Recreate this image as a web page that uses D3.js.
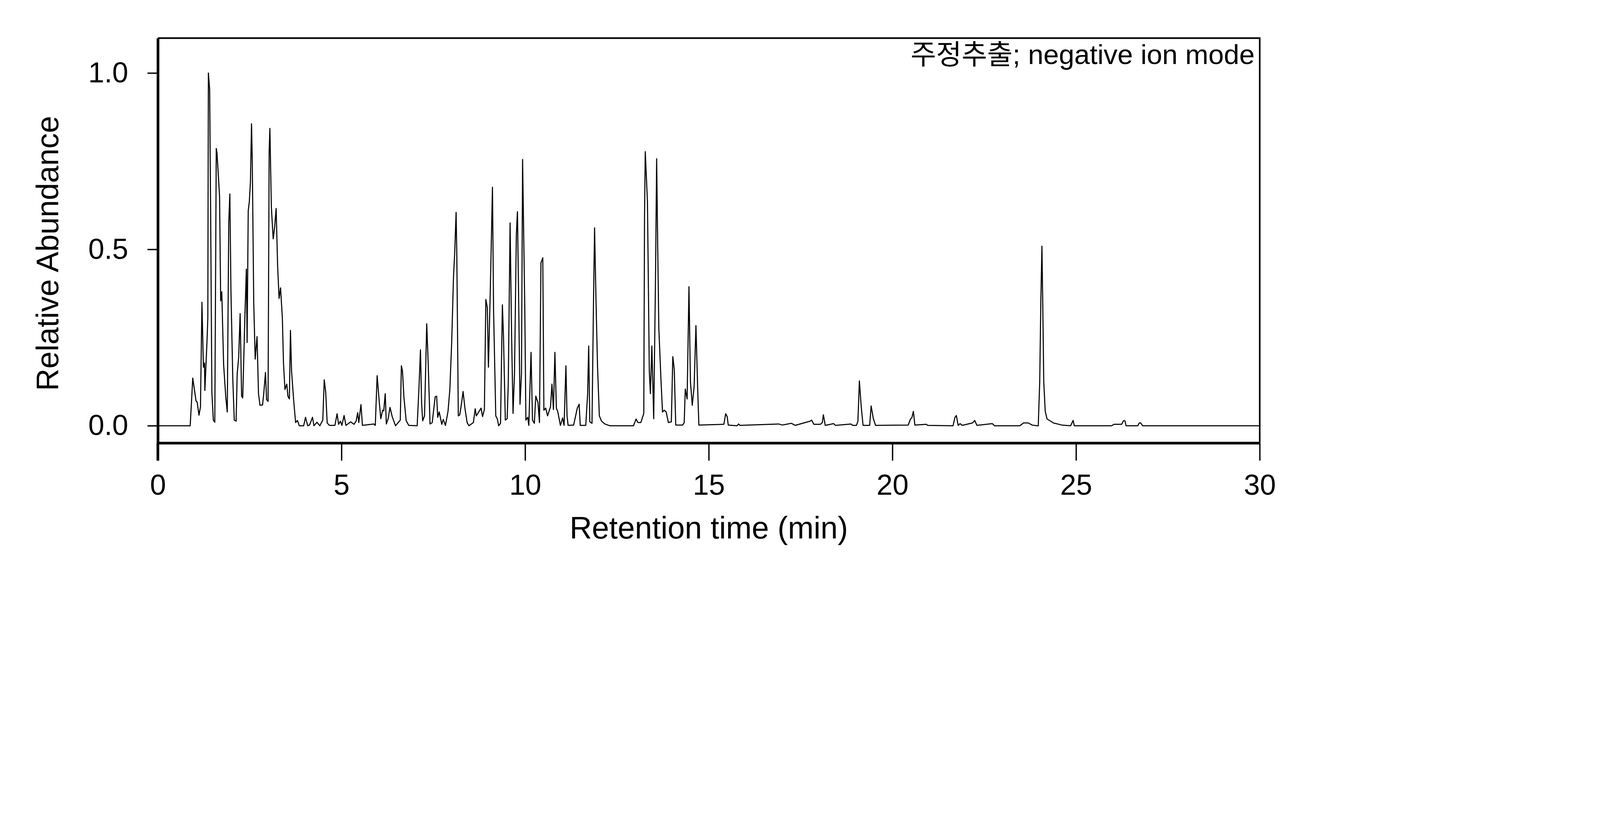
<!DOCTYPE html>
<html>
<head>
<meta charset="utf-8">
<script src="https://cdn.jsdelivr.net/npm/d3@7"></script>
<style>
  html, body { margin: 0; padding: 0; background: #fff; overflow: hidden; }
  svg { display: block; width: 100vw; height: auto; }
  text { font-family: "Liberation Sans", Arial, sans-serif; fill: #000; }
</style>
</head>
<body>
<div id="chart"></div>
<script>
// Retention times (min) and relative abundances
const times = [
  0, 0.88, 0.95, 1.04, 1.07, 1.12, 1.16, 1.2, 1.24, 1.27, 1.28, 1.34, 1.36, 1.375, 1.41, 1.44, 1.47, 1.51, 1.55, 1.57,
  1.59, 1.61, 1.68, 1.71, 1.74, 1.79, 1.85, 1.89, 1.93, 1.96, 1.99, 2.04, 2.08, 2.13, 2.16, 2.2, 2.24, 2.28, 2.31, 2.34,
  2.37, 2.41, 2.43, 2.46, 2.49, 2.52, 2.55, 2.57, 2.61, 2.65, 2.7, 2.74, 2.78, 2.85, 2.88, 2.93, 2.96, 3.0, 3.03, 3.05,
  3.09, 3.14, 3.18, 3.22, 3.26, 3.3, 3.34, 3.39, 3.42, 3.46, 3.51, 3.54, 3.58, 3.61, 3.64, 3.7, 3.75, 3.8, 3.85, 3.97,
  4.02, 4.08, 4.13, 4.21, 4.25, 4.33, 4.41, 4.49, 4.53, 4.57, 4.61, 4.67, 4.82, 4.88, 4.92, 4.97, 5.01, 5.07, 5.12, 5.25,
  5.34, 5.4, 5.44, 5.47, 5.53, 5.57, 5.88, 5.92, 5.97, 6.03, 6.07, 6.12, 6.15, 6.19, 6.22, 6.27, 6.32, 6.38, 6.47, 6.6,
  6.63, 6.66, 6.7, 6.76, 6.83, 7.06, 7.11, 7.15, 7.18, 7.21, 7.26, 7.29, 7.32, 7.36, 7.41, 7.47, 7.55, 7.59, 7.62, 7.66,
  7.73, 7.77, 7.83, 7.9, 7.95, 8.0, 8.05, 8.08, 8.12, 8.14, 8.18, 8.22, 8.26, 8.31, 8.36, 8.42, 8.47, 8.59, 8.64, 8.67,
  8.8, 8.84, 8.89, 8.93, 8.97, 9.0, 9.05, 9.11, 9.14, 9.2, 9.24, 9.28, 9.33, 9.38, 9.41, 9.46, 9.51, 9.54, 9.59, 9.63,
  9.67, 9.71, 9.76, 9.79, 9.82, 9.86, 9.9, 9.93, 9.99, 10.02, 10.07, 10.1, 10.16, 10.2, 10.25, 10.29, 10.35, 10.39, 10.43, 10.48,
  10.51, 10.56, 10.61, 10.69, 10.73, 10.77, 10.81, 10.85, 10.89, 10.96, 11.02, 11.06, 11.11, 11.14, 11.17, 11.32, 11.42, 11.47, 11.5, 11.65,
  11.7, 11.73, 11.76, 11.82, 11.86, 11.89, 11.93, 11.97, 12.02, 12.08, 12.17, 12.3, 12.95, 13.02, 13.07, 13.15, 13.23, 13.25, 13.27, 13.33,
  13.36, 13.38, 13.41, 13.45, 13.5, 13.55, 13.58, 13.61, 13.64, 13.7, 13.74, 13.79, 13.84, 13.9, 13.98, 14.02, 14.06, 14.1, 14.29, 14.33,
  14.36, 14.41, 14.46, 14.5, 14.55, 14.6, 14.65, 14.7, 14.73, 15.41, 15.46, 15.5, 15.53, 15.77, 15.81, 15.85, 16.9, 17.0, 17.15, 17.25,
  17.35, 17.76, 17.8, 17.86, 18.04, 18.09, 18.12, 18.17, 18.4, 18.45, 18.87, 18.92, 19.02, 19.06, 19.1, 19.15, 19.2, 19.38, 19.42, 19.48,
  19.54, 20.43, 20.49, 20.53, 20.57, 20.61, 20.92, 20.96, 21.65, 21.7, 21.74, 21.79, 21.84, 21.9, 22.18, 22.24, 22.3, 22.72, 22.78, 23.47,
  23.57, 23.7, 23.8, 23.94, 23.97, 24.01, 24.04, 24.07, 24.09, 24.12, 24.16, 24.21, 24.31, 24.38, 24.61, 24.85, 24.92, 24.95, 25.97, 26.03,
  26.24, 26.29, 26.33, 26.36, 26.68, 26.72, 26.76, 26.81, 30
];
const abundance = [
  0, 0, 0.135, 0.07, 0.067, 0.03, 0.054, 0.35, 0.166, 0.178, 0.10, 0.245, 0.305, 1.0, 0.954, 0.56, 0.095, 0.016, 0.01, 0.395,
  0.786, 0.774, 0.65, 0.354, 0.38, 0.174, 0.08, 0.039, 0.575, 0.657, 0.38, 0.133, 0.016, 0.013, 0.148, 0.193, 0.318, 0.084, 0.079, 0.193,
  0.313, 0.444, 0.236, 0.609, 0.635, 0.691, 0.856, 0.755, 0.35, 0.189, 0.253, 0.091, 0.058, 0.059, 0.088, 0.151, 0.074, 0.069, 0.777, 0.843,
  0.62, 0.53, 0.564, 0.616, 0.455, 0.361, 0.391, 0.305, 0.178, 0.103, 0.118, 0.084, 0.076, 0.27, 0.155, 0.069, 0.009, 0.015, 0, 0,
  0.024, 0, 0.002, 0.024, 0, 0.01, 0, 0.016, 0.13, 0.095, 0.008, 0.001, 0.001, 0.034, 0.004, 0.013, 0.001, 0.029, 0.001, 0.011,
  0.004, 0.014, 0.037, 0.009, 0.06, 0.001, 0.005, 0.001, 0.142, 0.065, 0.02, 0.044, 0.042, 0.091, 0.005, 0.02, 0.052, 0.026, 0, 0.016,
  0.17, 0.155, 0.08, 0.015, 0.001, 0, 0.11, 0.215, 0.065, 0.014, 0.028, 0.155, 0.289, 0.178, 0.005, 0.009, 0.082, 0.084, 0.024, 0.039,
  0.004, 0.018, 0.001, 0.041, 0.103, 0.238, 0.425, 0.485, 0.605, 0.478, 0.028, 0.031, 0.058, 0.097, 0.05, 0.009, 0, 0.009, 0.048, 0.028,
  0.05, 0.026, 0.046, 0.358, 0.335, 0.166, 0.38, 0.676, 0.328, 0.028, 0.02, 0, 0.007, 0.343, 0.253, 0.016, 0.02, 0.118, 0.575, 0.26,
  0.035, 0.148, 0.541, 0.607, 0.38, 0.061, 0.148, 0.755, 0.335, 0.016, 0.024, 0.001, 0.208, 0.016, 0.007, 0.084, 0.065, 0.009, 0.462, 0.476,
  0.044, 0.05, 0.028, 0.054, 0.118, 0.046, 0.208, 0.05, 0.039, 0.001, 0.022, 0.001, 0.17, 0.028, 0.001, 0.002, 0.05, 0.061, 0.001, 0.001,
  0.088, 0.226, 0.011, 0.007, 0.343, 0.561, 0.35, 0.17, 0.028, 0.013, 0.005, 0, 0, 0.019, 0.009, 0.009, 0.035, 0.59, 0.777, 0.635,
  0.35, 0.155, 0.091, 0.226, 0.02, 0.425, 0.757, 0.5, 0.275, 0.125, 0.039, 0.044, 0.039, 0.009, 0.011, 0.196, 0.159, 0.002, 0.002, 0.009,
  0.104, 0.076, 0.394, 0.125, 0.058, 0.11, 0.284, 0.095, 0.002, 0.004, 0.034, 0.026, 0.002, 0, 0.005, 0.001, 0.005, 0.002, 0.005, 0.007,
  0.001, 0.013, 0.016, 0.004, 0.004, 0.009, 0.031, 0.001, 0.006, 0.001, 0.005, 0.001, 0.001, 0.013, 0.127, 0.054, 0.001, 0.001, 0.056, 0.02,
  0.001, 0.002, 0.019, 0.023, 0.041, 0.002, 0.004, 0.001, 0, 0.023, 0.029, 0.001, 0.006, 0.001, 0.008, 0.015, 0.001, 0.006, 0, 0,
  0.008, 0.008, 0.002, 0, 0, 0.124, 0.35, 0.509, 0.365, 0.124, 0.041, 0.019, 0.013, 0.008, 0.002, 0, 0.015, 0, 0, 0.004,
  0.004, 0.014, 0.014, 0, 0, 0.008, 0.008, 0, 0
];
const xTicks = [0, 5, 10, 15, 20, 25, 30];
const yTicks = [0.0, 0.5, 1.0];
const xTitle = "Retention time (min)";
const yTitle = "Relative Abundance";
const note = "주정추출; negative ion mode";

const W = 6000, H = 2100;
const margin = {top: 143, right: 1276, bottom: 438, left: 592},
    width = W - margin.left - margin.right,
    height = H - margin.top - margin.bottom;

const svg = d3.select("#chart").append("svg")
    .attr("viewBox", "0 0 " + W + " " + H)
    .attr("preserveAspectRatio", "xMinYMin meet");

const g = svg.append("g")
    .attr("transform", "translate(" + margin.left + "," + margin.top + ")");

// Scales
const x = d3.scaleLinear().domain([0, 30]).range([0, width]);
const y = d3.scaleLinear().domain([-0.049, 1.099]).range([height, 0]);

// Frame (top and right, thinner)
g.append("path")
    .attr("d", "M0,0H" + width + "V" + height)
    .attr("fill", "none")
    .attr("stroke", "#000")
    .attr("stroke-width", 6);

// Chromatogram trace
const points = times.map((t, i) => [t, abundance[i]]);
g.append("path")
    .datum(points)
    .attr("fill", "none")
    .attr("stroke", "#000")
    .attr("stroke-width", 4)
    .attr("stroke-linejoin", "round")
    .attr("d", d3.line().x(d => x(d[0])).y(d => y(d[1])));

// Axes
const xAxis = d3.axisBottom(x).tickValues(xTicks).tickFormat(d3.format("d"))
    .tickSize(66).tickPadding(52).tickSizeOuter(0);
const yAxis = d3.axisLeft(y).tickValues(yTicks).tickFormat(d3.format(".1f"))
    .tickSize(39).tickPadding(72).tickSizeOuter(0);

const gx = g.append("g")
    .attr("transform", "translate(0," + height + ")")
    .call(xAxis);
const gy = g.append("g").call(yAxis);

[gx, gy].forEach(a => {
    a.select(".domain").attr("stroke-width", 10);
    a.selectAll(".tick line").attr("stroke-width", 5);
    a.selectAll("text").style("font-size", "108px")
      .style("font-family", "'Liberation Sans', Arial, sans-serif").attr("fill", "#000");
});
// extend left axis line down to the x tick depth
g.append("line")
    .attr("x1", 0).attr("x2", 0).attr("y1", height).attr("y2", height + 66)
    .attr("stroke", "#000").attr("stroke-width", 10);

// Titles
svg.append("text")
    .attr("x", margin.left + width / 2)
    .attr("y", 2020)
    .attr("text-anchor", "middle")
    .style("font-size", "116px")
    .text(xTitle);

svg.append("text")
    .attr("transform", "translate(218," + (margin.top + y(0.5) + 15) + ") rotate(-90)")
    .attr("text-anchor", "middle")
    .style("font-size", "116px")
    .text(yTitle);

// Annotation
g.append("text")
    .attr("x", width - 19)
    .attr("y", 97)
    .attr("text-anchor", "end")
    .style("font-size", "104px")
    .style("font-family", "'Liberation Sans', 'Noto Sans CJK KR', sans-serif")
    .text(note);
</script>
</body>
</html>
